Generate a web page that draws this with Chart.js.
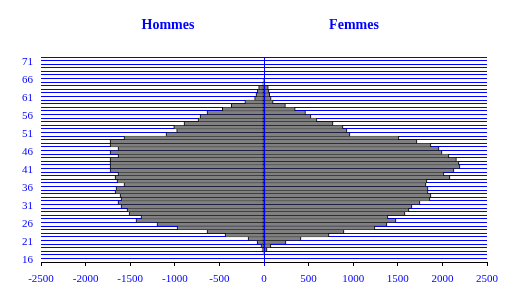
<!DOCTYPE html>
<html>
<head>
<meta charset="utf-8">
<script src="https://cdn.jsdelivr.net/npm/chart.js@4/dist/chart.umd.min.js"></script>
<style>
  body { margin: 0; background: #fff; }
</style>
</head>
<body>
<canvas id="mycanvas" width="521" height="307"></canvas>
<script>
// ages 16..72, bottom to top
var ages = ['16','17','18','19','20','21','22','23','24','25','26','27','28','29','30',
            '31','32','33','34','35','36','37','38','39','40','41','42','43','44','45',
            '46','47','48','49','50','51','52','53','54','55','56','57','58','59','60',
            '61','62','63','64','65','66','67','68','69','70','71','72'];

var hommes = [0, 0, -11, -22, -34, -78, -179, -437, -639, -975, -1200, -1435, -1379, -1513, -1536,
              -1603, -1637, -1603, -1614, -1670, -1659, -1570, -1648, -1670, -1637, -1726, -1726, -1726, -1726, -1637,
              -1726, -1637, -1726, -1726, -1570, -1099, -979, -1012, -897, -740, -717, -639, -468, -368, -215,
              -105, -90, -74, -60, -15, -10, 0, 0, 0, 0, 0, 0];

var femmes = [0, 0, 8, 34, 78, 247, 415, 729, 897, 1244, 1379, 1480, 1390, 1581, 1626,
              1659, 1749, 1861, 1872, 1839, 1839, 1816, 1827, 2085, 2018, 2130, 2197, 2186, 2157, 2074,
              1996, 1962, 1872, 1715, 1513, 964, 930, 886, 774, 594, 527, 465, 350, 240, 103,
              80, 65, 56, 48, 10, 6, 0, 0, 0, 0, 0, 0];

var yTickLabels = ['16','21','26','31','36','41','46','51','56','61','66','71'];
var xMin = -2500, xMax = 2500, xStep = 500;

var blue = '#0000ff';
var serif = '"Liberation Serif", "Times New Roman", serif';

// blue line at x = 0, over the bars
var zeroLine = {
  id: 'zeroLine',
  afterDatasetsDraw: function(chart) {
    var ctx = chart.ctx, area = chart.chartArea;
    var x = Math.round(chart.scales.x.getPixelForValue(0)) + 0.5;
    ctx.save();
    ctx.strokeStyle = blue;
    ctx.lineWidth = 1;
    ctx.beginPath();
    ctx.moveTo(x, area.top);
    ctx.lineTo(x, area.bottom + 4);
    ctx.stroke();
    ctx.restore();
  }
};

// the two side titles
var sideTitles = {
  id: 'sideTitles',
  afterDraw: function(chart) {
    var ctx = chart.ctx;
    ctx.save();
    ctx.fillStyle = blue;
    ctx.font = 'bold 14px ' + serif;
    ctx.textAlign = 'center';
    ctx.textBaseline = 'middle';
    ctx.fillText('Hommes', 168, 25);
    ctx.fillText('Femmes', 354, 25);
    ctx.restore();
  }
};

var barStyle = {
  backgroundColor: '#808080',
  borderColor: '#000000',
  borderWidth: { top: 0.5, bottom: 0.5, left: 1, right: 1 },
  borderSkipped: false,
  barPercentage: 1,
  categoryPercentage: 1
};

var chartdata = {
  labels: ages,
  datasets: [
    Object.assign({ label: 'Hommes', data: hommes }, barStyle),
    Object.assign({ label: 'Femmes', data: femmes }, barStyle)
  ]
};

var ctx = document.getElementById('mycanvas');

var pyramid = new Chart(ctx, {
  type: 'bar',
  data: chartdata,
  plugins: [zeroLine, sideTitles],
  options: {
    indexAxis: 'y',
    responsive: false,
    animation: false,
    layout: { padding: { top: 57, right: 34, left: 0, bottom: 0 } },
    plugins: {
      legend: { display: false },
      tooltip: { enabled: false },
      title: { display: false }
    },
    scales: {
      x: {
        stacked: true,
        min: xMin,
        max: xMax,
        afterFit: function(scale) { scale.height = 45; },
        ticks: {
          stepSize: xStep,
          color: blue,
          font: { family: serif, size: 11 },
          padding: 7,
          maxRotation: 0,
          callback: function(value) { return String(value); }
        },
        grid: { drawOnChartArea: false, drawTicks: true, tickLength: 4, color: '#000000' },
        border: { color: '#000000', width: 1 }
      },
      y: {
        stacked: true,
        reverse: true,
        afterFit: function(scale) { scale.width = 41; },
        ticks: {
          autoSkip: false,
          color: blue,
          font: { family: serif, size: 11 },
          padding: 8,
          callback: function(value, index) {
            var lab = ages[index];
            return yTickLabels.indexOf(lab) >= 0 ? lab : '';
          }
        },
        grid: { color: blue, lineWidth: 1, drawTicks: false, offset: true },
        border: { display: false }
      }
    }
  }
});
</script>
</body>
</html>
